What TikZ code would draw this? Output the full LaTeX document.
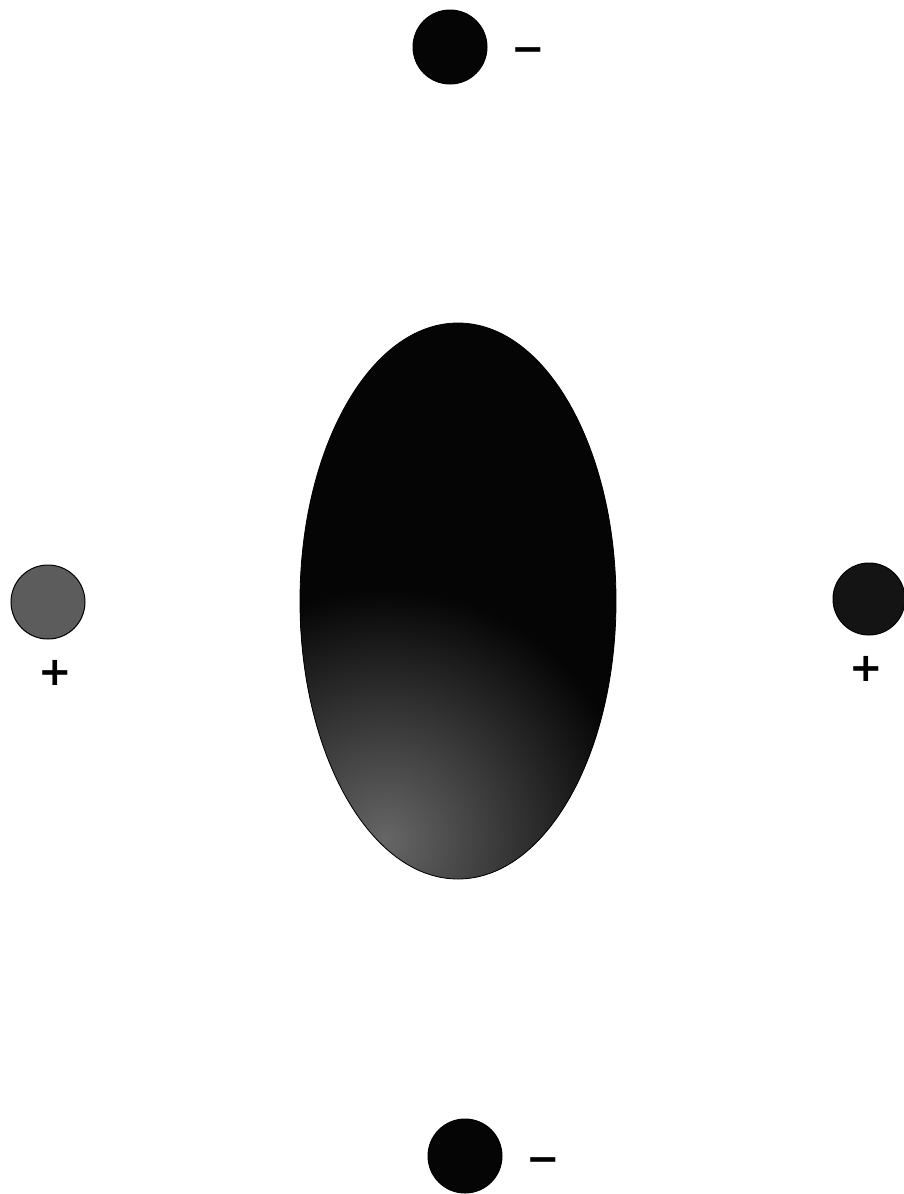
\documentclass[tikz,border=0pt]{standalone}
\usepackage{fontspec}
\newfontfamily\signfont{DejaVu Sans}
\usepackage{tikz}
\tikzset{
  ion/.style={circle, draw=black, line width=1pt, minimum size=74pt, inner sep=0pt},
  charge/.style={font=\signfont\bfseries\fontsize{40}{40}\selectfont, inner sep=0pt}
}
\definecolor{ionblack}{gray}{0.02}
\definecolor{iongray}{gray}{0.36}
\definecolor{iondark}{gray}{0.08}
\definecolor{cloudlight}{gray}{0.40}

\begin{document}
\begin{tikzpicture}[x=1pt, y=-1pt]
  \useasboundingbox (0,0) rectangle (903,1194);

  % === CENTRAL CHARGE CLOUD ===
  \begin{scope}
    \clip (458,601) ellipse [x radius=158, y radius=278];
    \fill[ionblack] (300,323) rectangle (616,879);
    \shade[inner color=cloudlight, outer color=ionblack]
      (385,840) circle (250);
  \end{scope}
  \draw[black, line width=0.8pt]
    (458,601) ellipse [x radius=158, y radius=278];

  % === IONS ===
  \node[ion, fill=ionblack] (top) at (450,47) {};
  \node[charge] (topsign) at (528,55) {−};

  \node[ion, fill=ionblack] (bottom) at (465,1156) {};
  \node[charge] (bottomsign) at (543,1165) {−};

  \node[ion, fill=iongray] (left) at (48,602) {};
  \node[charge] (leftsign) at (55,673) {+};

  \node[ion, fill=iondark, minimum size=72pt] (right) at (869,599) {};
  \node[charge] (rightsign) at (866,669) {+};

\end{tikzpicture}
\end{document}
